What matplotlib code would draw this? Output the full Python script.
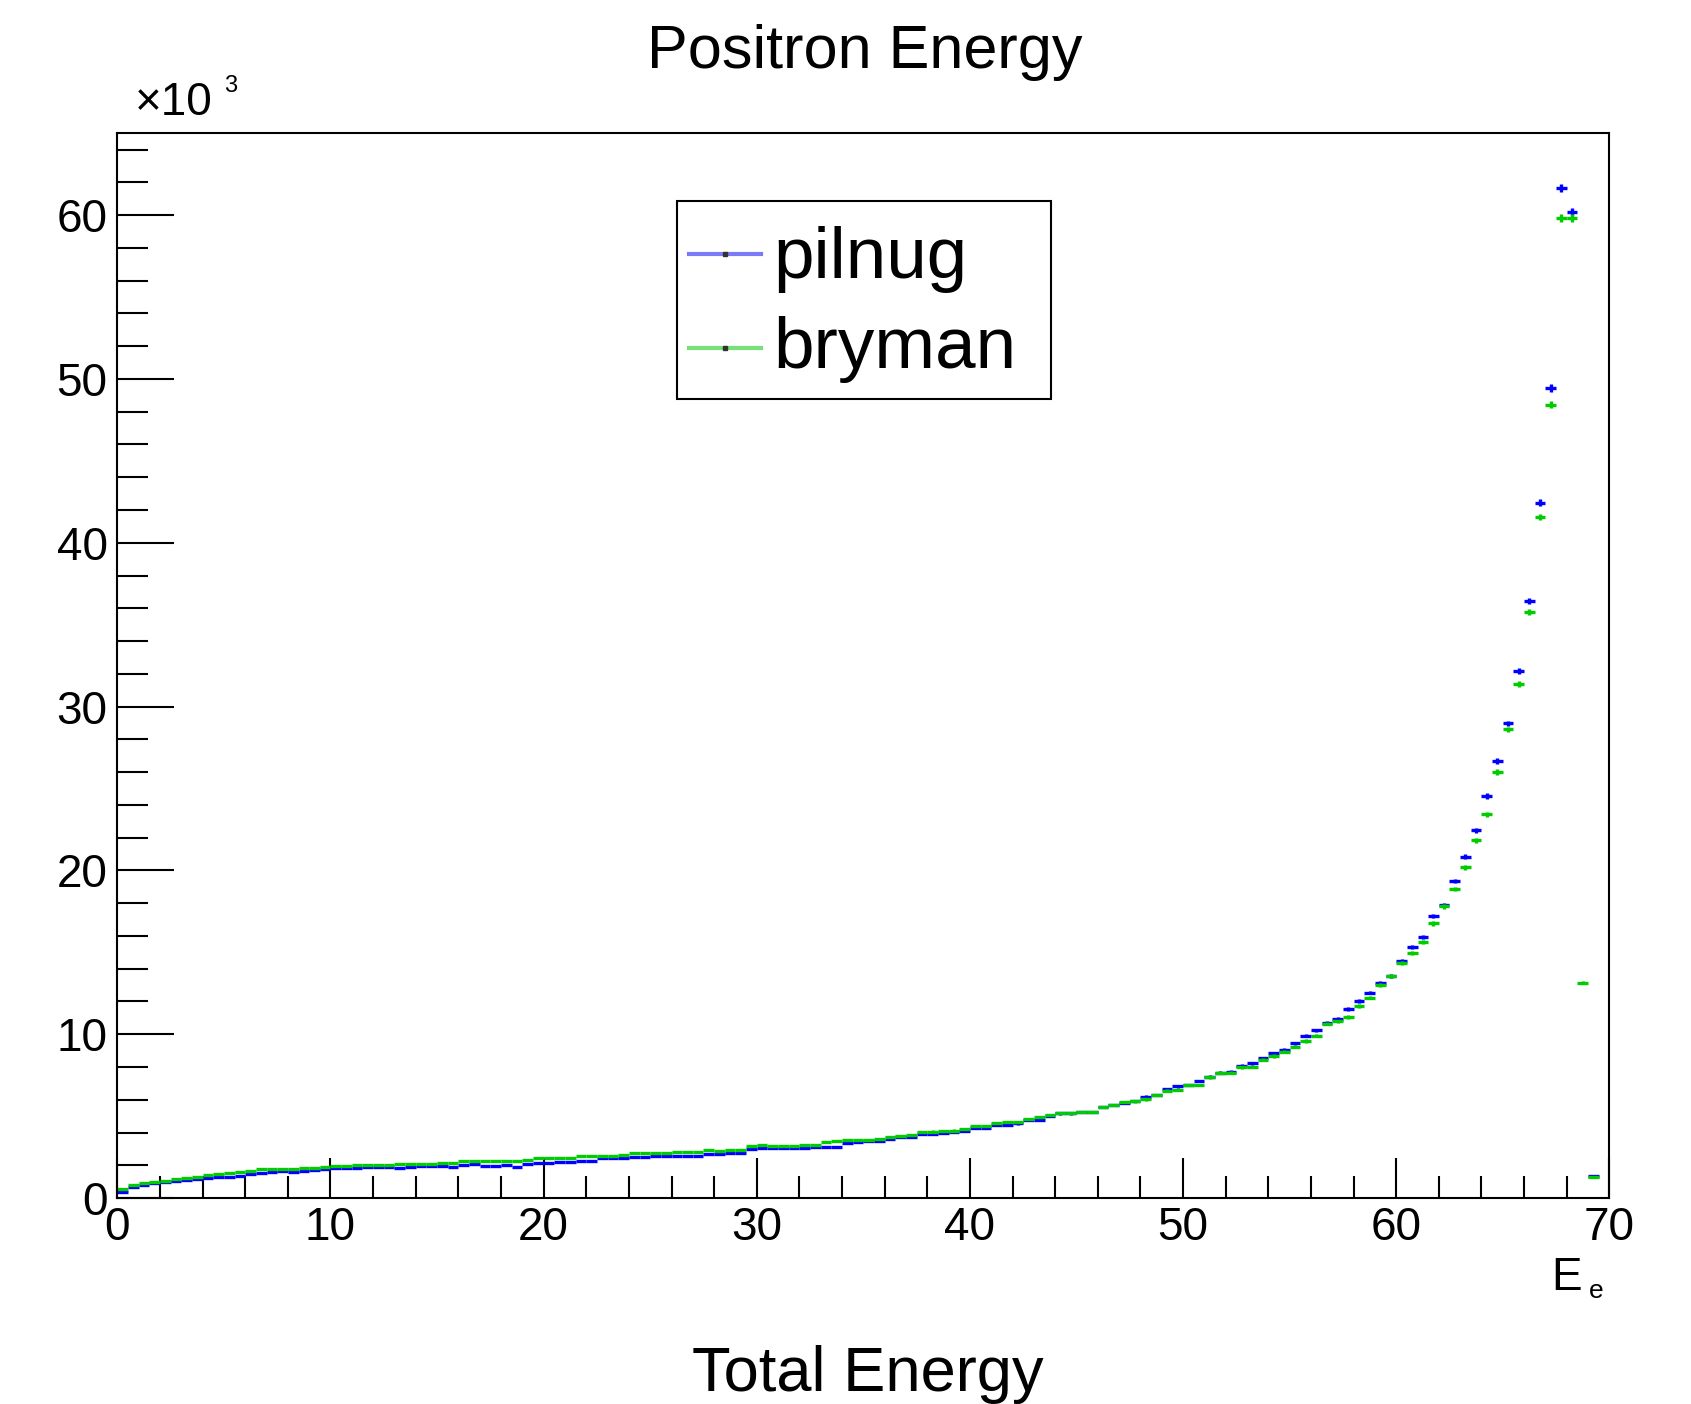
import numpy as np
import matplotlib
matplotlib.use("Agg")
import matplotlib.pyplot as plt
from matplotlib.lines import Line2D
from matplotlib.patches import Rectangle
from matplotlib.ticker import MultipleLocator

plt.rcParams['font.family'] = ['Liberation Sans', 'DejaVu Sans']
plt.rcParams['mathtext.default'] = 'regular'

# histogram: 140 bins of 0.5 from 0 to 70, counts in units of 10^3
BIN_LO = 0.0
BIN_HI = 70.0
N_BINS = 140

pilnug = [
    0.39, 0.65, 0.79, 0.90, 0.98, 1.06, 1.10, 1.14, 1.20, 1.26,
    1.30, 1.36, 1.44, 1.54, 1.60, 1.67, 1.60, 1.67, 1.71, 1.75,
    1.81, 1.81, 1.81, 1.87, 1.91, 1.91, 1.81, 1.91, 1.95, 1.98,
    1.98, 1.87, 2.03, 2.06, 1.95, 1.97, 2.00, 1.90, 2.08, 2.16,
    2.16, 2.20, 2.20, 2.28, 2.28, 2.42, 2.42, 2.42, 2.53, 2.53,
    2.57, 2.57, 2.59, 2.59, 2.59, 2.69, 2.69, 2.73, 2.73, 3.00,
    3.04, 3.04, 3.06, 3.08, 3.08, 3.10, 3.14, 3.14, 3.36, 3.40,
    3.50, 3.50, 3.58, 3.70, 3.72, 3.90, 3.90, 4.00, 4.02, 4.10,
    4.26, 4.28, 4.46, 4.46, 4.55, 4.76, 4.78, 5.03, 5.17, 5.17,
    5.27, 5.27, 5.54, 5.68, 5.82, 5.93, 6.19, 6.29, 6.64, 6.81,
    6.90, 7.15, 7.40, 7.66, 7.72, 8.09, 8.23, 8.53, 8.84, 9.04,
    9.45, 9.90, 10.23, 10.71, 10.92, 11.53, 12.03, 12.54, 13.12, 13.55,
    14.46, 15.31, 15.94, 17.21, 17.90, 19.36, 20.83, 22.44, 24.54, 26.68,
    28.97, 32.19, 36.43, 42.45, 49.44, 61.64, 60.20, 0.0, 1.34, 0.0,
]

bryman = [
    0.55, 0.79, 0.94, 1.00, 1.06, 1.14, 1.20, 1.30, 1.40, 1.46,
    1.50, 1.60, 1.67, 1.75, 1.75, 1.75, 1.76, 1.81, 1.81, 1.87,
    1.95, 1.95, 1.99, 2.03, 2.03, 2.04, 2.07, 2.07, 2.10, 2.10,
    2.11, 2.14, 2.26, 2.26, 2.28, 2.28, 2.28, 2.29, 2.30, 2.42,
    2.42, 2.42, 2.44, 2.57, 2.57, 2.57, 2.58, 2.60, 2.73, 2.73,
    2.74, 2.75, 2.79, 2.79, 2.80, 2.93, 2.85, 2.93, 2.95, 3.20,
    3.22, 3.18, 3.18, 3.20, 3.24, 3.26, 3.44, 3.46, 3.54, 3.54,
    3.56, 3.58, 3.71, 3.78, 3.85, 4.05, 4.06, 4.10, 4.12, 4.20,
    4.40, 4.42, 4.60, 4.62, 4.66, 4.81, 4.95, 5.07, 5.21, 5.21,
    5.27, 5.27, 5.54, 5.68, 5.87, 5.90, 6.03, 6.29, 6.56, 6.60,
    6.90, 6.90, 7.37, 7.66, 7.65, 7.98, 8.02, 8.43, 8.67, 8.94,
    9.24, 9.59, 9.92, 10.65, 10.78, 11.04, 11.73, 12.24, 13.01, 13.53,
    14.37, 14.95, 15.62, 16.76, 17.80, 18.88, 20.18, 21.83, 23.42, 26.00,
    28.61, 31.38, 35.78, 41.58, 48.44, 59.80, 59.80, 13.15, 1.30, 0.0,
]

series = [("pilnug", pilnug, "#0000ff", "#7b7bf7"),
          ("bryman", bryman, "#00cc00", "#77e077")]

edges = np.linspace(BIN_LO, BIN_HI, N_BINS + 1)
centers = 0.5 * (edges[:-1] + edges[1:])

fig = plt.figure(figsize=(16.91, 14.04), dpi=100)
ax = fig.add_axes([0.0694, 0.1467, 0.9517 - 0.0694, 0.9051 - 0.1467])

for name, vals, col, _ in series:
    v = np.array(vals)
    m = v > 0
    err = np.sqrt(v[m] * 1000.0) / 1000.0   # poisson errors, in 10^3
    ax.hlines(v[m], edges[:-1][m], edges[1:][m], color=col, lw=2.4)
    ax.vlines(centers[m], v[m] - err, v[m] + err, color=col, lw=2.4)

ax.set_xlim(0, 70)
ax.set_ylim(0, 65)
ax.xaxis.set_major_locator(MultipleLocator(10))
ax.xaxis.set_minor_locator(MultipleLocator(2))
ax.yaxis.set_major_locator(MultipleLocator(10))
ax.yaxis.set_minor_locator(MultipleLocator(2))
ax.tick_params(which='both', direction='in', top=False, right=False, width=1.5, labelsize=33)
ax.tick_params(axis='x', which='major', length=29, pad=6)
ax.tick_params(axis='x', which='minor', length=16)
ax.tick_params(axis='y', which='major', length=41, pad=7)
ax.tick_params(axis='y', which='minor', length=22)
for s in ax.spines.values():
    s.set_linewidth(1.5)

# titles and axis text, ROOT style
fig.text(0.5115, 0.9516, "Positron Energy", ha='center', va='baseline', fontsize=44)
fig.text(0.5130, 0.0093, "Total Energy", ha='center', va='baseline', fontsize=45.5)
fig.text(0.9172, 0.0812, "E", ha='left', va='baseline', fontsize=33)
fig.text(0.9397, 0.0755, "e", ha='left', va='baseline', fontsize=19)
fig.text(0.0798, 0.918, "\u00d710", ha='left', va='baseline', fontsize=33)
fig.text(0.1325, 0.9345, "3", ha='left', va='baseline', fontsize=17)

# legend box
fig.patches.append(Rectangle((0.4002, 0.7156), 0.6213 - 0.4002, 0.857 - 0.7156,
                             transform=fig.transFigure, fill=False, lw=1.5, ec='black'))
for (name, _, _, lcol), ly, ty in zip(series, [0.8189, 0.7524], [0.802, 0.7377]):
    fig.lines.append(Line2D([0.4076, 0.4499], [ly, ly], transform=fig.transFigure,
                            color=lcol, lw=3.0))
    fig.lines.append(Line2D([0.42875], [ly], transform=fig.transFigure, marker='s',
                            ms=2.5, color='#333333', ls='none'))
    fig.text(0.4571, ty, name, ha='left', va='baseline', fontsize=52.5)

fig.savefig("out.png", dpi=100)
